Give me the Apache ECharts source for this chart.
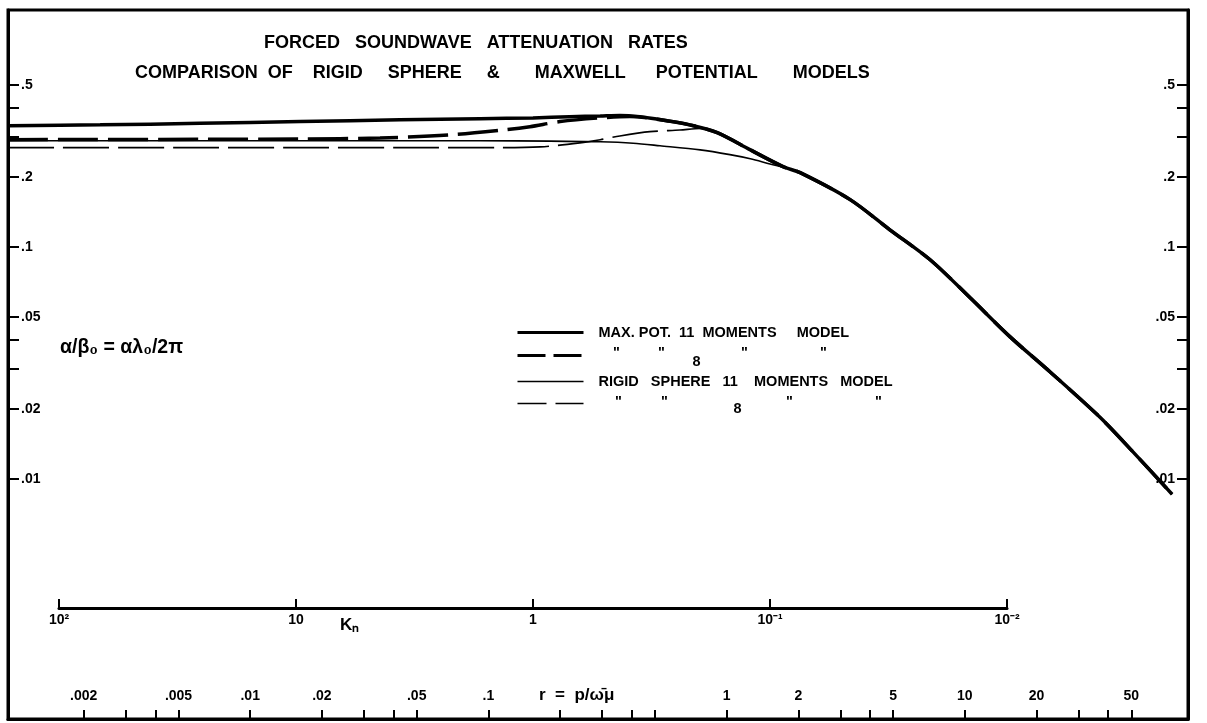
<!DOCTYPE html>
<html><head><meta charset="utf-8">
<script src="https://cdn.jsdelivr.net/npm/echarts@6/dist/echarts.min.js"></script>
<style>html,body{margin:0;padding:0;background:#fff}#c{width:1207px;height:723px}</style>
</head><body><div id="c"></div>
<script>
// ---------- data ----------
const knMaxPot11 = [164, 67, 25.4, 9.6, 3.64, 1.67, 1.0, 0.70, 0.52, 0.43, 0.354, 0.272, 0.218, 0.167, 0.121, 0.0881, 0.0746, 0.0459, 0.0312, 0.0211, 0.0143, 0.0097, 0.00659, 0.00406, 0.00294, 0.00201];
const aMaxPot11  = [0.333, 0.336, 0.341, 0.347, 0.353, 0.357, 0.360, 0.364, 0.367, 0.369, 0.364, 0.350, 0.336, 0.311, 0.262, 0.222, 0.209, 0.160, 0.1186, 0.0881, 0.0604, 0.041, 0.029, 0.0185, 0.0131, 0.0086];

const knMaxPot8 = [164, 25.4, 9.6, 4.42, 2.24, 1.31, 1.03, 0.769, 0.52, 0.39, 0.272, 0.218, 0.167, 0.121, 0.0881, 0.0746, 0.0459, 0.0312, 0.0211, 0.0143, 0.0097, 0.00659, 0.00406, 0.00294, 0.00201];
const aMaxPot8  = [0.290, 0.291, 0.292, 0.295, 0.304, 0.320, 0.330, 0.347, 0.360, 0.365, 0.350, 0.336, 0.311, 0.262, 0.222, 0.209, 0.160, 0.1186, 0.0881, 0.0604, 0.041, 0.029, 0.0185, 0.0131, 0.0086];

const knRigid11 = [164, 25.4, 9.6, 3.64, 1.67, 0.848, 0.52, 0.378, 0.291, 0.197, 0.1476, 0.121, 0.1, 0.0824, 0.0746, 0.0459, 0.0312, 0.0211, 0.0143, 0.0097, 0.00659, 0.00406, 0.00294, 0.00201];
const aRigid11  = [0.287, 0.287, 0.287, 0.287, 0.287, 0.286, 0.284, 0.280, 0.273, 0.262, 0.250, 0.240, 0.228, 0.217, 0.209, 0.160, 0.1186, 0.0881, 0.0604, 0.041, 0.029, 0.0185, 0.0131, 0.0086];

const knRigid8 = [164, 25.4, 9.6, 3.64, 1.38, 0.933, 0.634, 0.52, 0.43, 0.321, 0.24, 0.197, 0.167, 0.121, 0.0881, 0.0746, 0.0459, 0.0312, 0.0211, 0.0143, 0.0097, 0.00659, 0.00406, 0.00294, 0.00201];
const aRigid8  = [0.268, 0.268, 0.268, 0.268, 0.268, 0.270, 0.281, 0.290, 0.301, 0.314, 0.319, 0.324, 0.311, 0.262, 0.222, 0.209, 0.160, 0.1186, 0.0881, 0.0604, 0.041, 0.029, 0.0185, 0.0131, 0.0086];

const seriesNames = ['MAX. POT. 11 MOMENTS MODEL', 'MAX. POT. 8 MOMENTS MODEL', 'RIGID SPHERE 11 MOMENTS MODEL', 'RIGID SPHERE 8 MOMENTS MODEL'];

// tick values
const yTickValues  = [0.5, 0.4, 0.3, 0.2, 0.1, 0.05, 0.04, 0.03, 0.02, 0.01];
const yLabelValues = [0.5, 0.2, 0.1, 0.05, 0.02, 0.01];
const knTickValues = [100, 10, 1, 0.1, 0.01];
const knTickLabels = ['10²', '10', '1', '10⁻¹', '10⁻²'];
const rTickValues  = [0.002, 0.003, 0.004, 0.005, 0.01, 0.02, 0.03, 0.04, 0.05, 0.1, 0.2, 0.3, 0.4, 0.5, 1, 2, 3, 4, 5, 10, 20, 30, 40, 50];
const rLabelValues = [0.002, 0.005, 0.01, 0.02, 0.05, 0.1, 1, 2, 5, 10, 20, 50];

// axis extents
const Y_MIN = 0.000925, Y_MAX = 1.05;          // frame, vertical
const R_MIN = 0.000962, R_MAX = 86.5;          // frame, bottom r scale
const KN_FRAME_MIN = 0.0017226, KN_FRAME_MAX = 164.1; // frame, Kn (hidden, used by curves)
const KN_MIN = 0.01, KN_MAX = 100;             // drawn Kn scale

// ---------- helpers ----------
const FONT = 'Liberation Sans';
function frac(v) {
  const s = String(+(+v).toPrecision(6));
  return s.replace(/^0\./, '.');
}
function pairs(xs, ys) { return xs.map((x, i) => [x, ys[i]]); }
function knLabel(v) {
  const k = Math.round(Math.log10(v));
  const i = knTickValues.findIndex(t => Math.round(Math.log10(t)) === k);
  return i >= 0 ? knTickLabels[i] : '';
}

const chart = echarts.init(document.getElementById('c'), null, {renderer: 'canvas'});

const yAxisCommon = {
  type: 'log', logBase: 10, min: Y_MIN, max: Y_MAX, gridIndex: 0,
  axisLine: {show: true, lineStyle: {color: '#000', width: 3}},
  axisTick: {show: true, inside: true, length: 11, customValues: yTickValues, lineStyle: {color: '#000', width: 2}},
  axisLabel: {show: true, inside: true, margin: 13, customValues: yLabelValues, formatter: frac,
    color: '#000', fontFamily: FONT, fontWeight: 'bold', fontSize: 14},
  splitLine: {show: false}, minorTick: {show: false}
};

function tok(w, va, pad) {
  const s = {width: w, align: 'center', verticalAlign: va, fontFamily: FONT, fontWeight: 'bold', fontSize: 14.5, color: '#000'};
  if (pad) s.padding = pad;
  return s;
}
const legendRich = {
  q1: tok(36, 'top', [3, 0, 0, 0]), q2: tok(54, 'top', [3, 0, 0, 0]), e1: tok(16, 'bottom', [12, 0, 0, 0]),
  q3: tok(80, 'top', [3, 0, 0, 0]), q4: tok(78, 'top', [3, 0, 0, 0]),
  r1: tok(40, 'top', [3, 0, 0, 0]), r2: tok(52, 'top', [3, 0, 0, 0]), f1: tok(94, 'bottom', [10, 0, 0, 0]),
  r3: tok(10, 'top', [3, 0, 0, 0]), r4: tok(168, 'top', [3, 0, 0, 0])
};
const legendText = {};
legendText[seriesNames[0]] = 'MAX. POT.  11  MOMENTS     MODEL';
legendText[seriesNames[1]] = '{q1|"}{q2|"}{e1|8}{q3|"}{q4|"}';
legendText[seriesNames[2]] = 'RIGID   SPHERE   11    MOMENTS   MODEL';
legendText[seriesNames[3]] = '{r1|"}{r2|"}{f1|8}{r3|"}{r4|"}';

const titleStyle = {fontFamily: FONT, fontWeight: 'bold', fontSize: 18, color: '#000'};

const option = {
  backgroundColor: '#fff',
  animation: false,
  title: [
    {text: 'FORCED   SOUNDWAVE   ATTENUATION   RATES', left: 264, top: 34, padding: 0, textStyle: titleStyle},
    {text: 'COMPARISON  OF    RIGID     SPHERE     &       MAXWELL      POTENTIAL       MODELS', left: 135, top: 64, padding: 0, textStyle: titleStyle},
    {text: 'α/β₀ = αλ₀/2π', left: 60, top: 338, padding: 0, textStyle: {fontFamily: FONT, fontWeight: 'bold', fontSize: 19.5, color: '#000'}},
    {text: 'Kₙ', left: 340, top: 617, padding: 0, textStyle: {fontFamily: FONT, fontWeight: 'bold', fontSize: 17, color: '#000'}},
    {text: 'r  =  p/ω̄μ', left: 539, top: 687, padding: 0, textStyle: {fontFamily: FONT, fontWeight: 'bold', fontSize: 17, color: '#000'}}
  ],
  legend: {
    show: true, orient: 'vertical', left: 516, top: 325, padding: 0,
    itemWidth: 66, itemHeight: 14, itemGap: 5, selectedMode: false,
    itemStyle: {opacity: 0, borderWidth: 0},
    data: [
      {name: seriesNames[0], lineStyle: {width: 3, type: 'solid', color: '#000'}},
      {name: seriesNames[1], lineStyle: {width: 3, type: [28, 8], color: '#000'}},
      {name: seriesNames[2], lineStyle: {width: 1.6, type: 'solid', color: '#000'}},
      {name: seriesNames[3], lineStyle: {width: 1.6, type: [29, 9], color: '#000'}}
    ],
    textStyle: {fontFamily: FONT, fontWeight: 'bold', fontSize: 14.5, color: '#000', padding: [0, 0, 0, 10], rich: legendRich},
    formatter: function (name) { return legendText[name] || name; }
  },
  grid: [
    {left: 8, top: 10, right: 19, bottom: 4, show: true, borderColor: '#000', borderWidth: 3, backgroundColor: 'transparent', containLabel: false, outerBoundsMode: 'none'},
    {left: 59, top: 10, right: 200, bottom: 4, show: false, containLabel: false, outerBoundsMode: 'none'}
  ],
  xAxis: [
    { // r = p / (omega mu) scale on the bottom frame
      type: 'log', logBase: 10, min: R_MIN, max: R_MAX, gridIndex: 0, position: 'bottom',
      axisLine: {show: true, lineStyle: {color: '#000', width: 3}},
      axisTick: {show: true, inside: true, length: 9, customValues: rTickValues, lineStyle: {color: '#000', width: 2}},
      axisLabel: {show: true, inside: true, margin: 16, customValues: rLabelValues, formatter: frac,
        color: '#000', fontFamily: FONT, fontWeight: 'bold', fontSize: 14},
      splitLine: {show: false}, minorTick: {show: false}
    },
    { // Knudsen number axis, drawn inside the frame
      type: 'log', logBase: 10, min: KN_MIN, max: KN_MAX, inverse: true, gridIndex: 1, position: 'bottom', offset: -111,
      axisLine: {show: true, lineStyle: {color: '#000', width: 3}},
      axisTick: {show: true, inside: true, length: 9, customValues: knTickValues, lineStyle: {color: '#000', width: 2}},
      axisLabel: {show: true, margin: 5, customValues: knTickValues, formatter: knLabel,
        color: '#000', fontFamily: FONT, fontWeight: 'bold', fontSize: 14},
      splitLine: {show: false}, minorTick: {show: false}
    },
    { // same Kn scale extended to the frame edges (hidden, carries the curves)
      type: 'log', logBase: 10, min: KN_FRAME_MIN, max: KN_FRAME_MAX, inverse: true, gridIndex: 0, show: false,
      splitLine: {show: false}
    }
  ],
  yAxis: [
    Object.assign({}, yAxisCommon, {position: 'left'}),
    Object.assign({}, yAxisCommon, {position: 'right'}),
    {type: 'log', logBase: 10, min: Y_MIN, max: Y_MAX, gridIndex: 1, show: false, splitLine: {show: false}}
  ],
  series: [
    {name: seriesNames[0], type: 'line', xAxisIndex: 2, yAxisIndex: 0, data: pairs(knMaxPot11, aMaxPot11),
      symbol: 'none', smooth: 0.3, z: 4, lineStyle: {color: '#000', width: 3.5, type: 'solid'}, itemStyle: {color: '#000'}},
    {name: seriesNames[1], type: 'line', xAxisIndex: 2, yAxisIndex: 0, data: pairs(knMaxPot8, aMaxPot8),
      symbol: 'none', smooth: 0.3, z: 3, lineStyle: {color: '#000', width: 3.5, type: [40, 10]}, itemStyle: {color: '#000'}},
    {name: seriesNames[2], type: 'line', xAxisIndex: 2, yAxisIndex: 0, data: pairs(knRigid11, aRigid11),
      symbol: 'none', smooth: 0.3, z: 2, lineStyle: {color: '#000', width: 1.6, type: 'solid'}, itemStyle: {color: '#000'}},
    {name: seriesNames[3], type: 'line', xAxisIndex: 2, yAxisIndex: 0, data: pairs(knRigid8, aRigid8),
      symbol: 'none', smooth: 0.3, z: 2, lineStyle: {color: '#000', width: 1.6, type: [46, 9]}, itemStyle: {color: '#000'}}
  ]
};
chart.setOption(option);
</script>
</body></html>
